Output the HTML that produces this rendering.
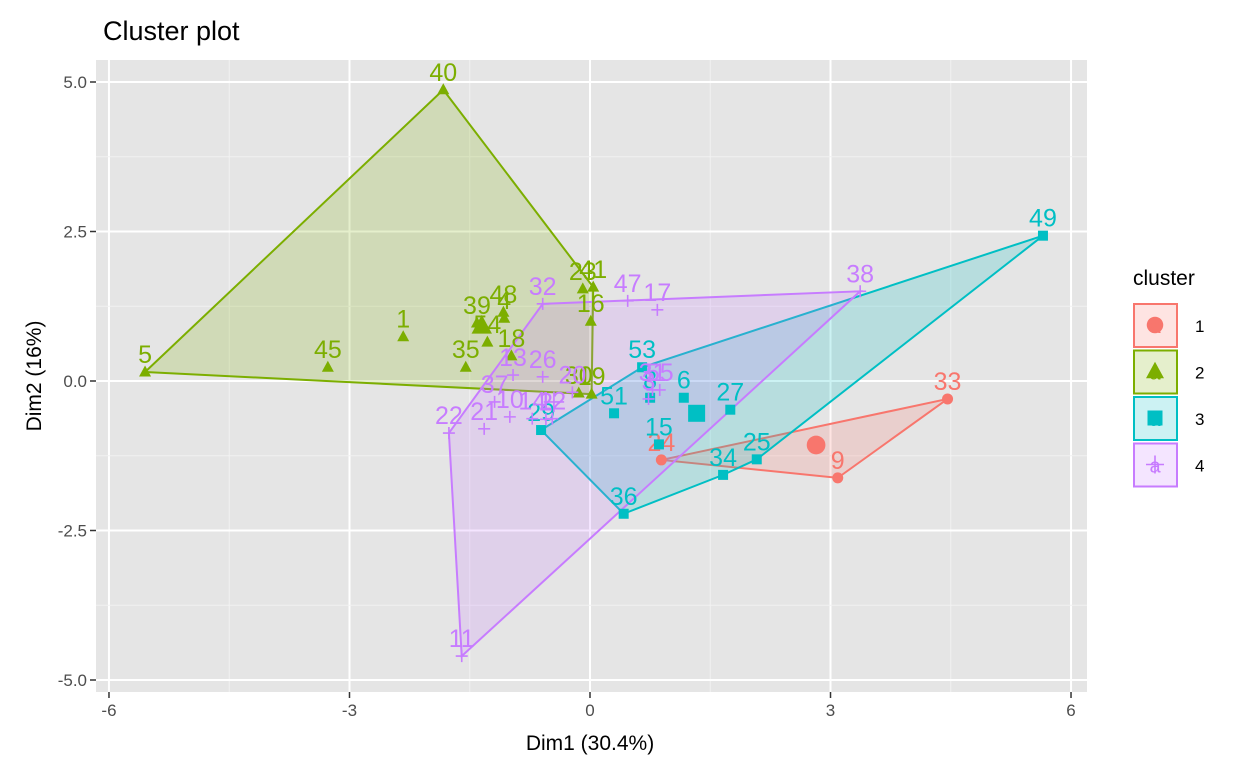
<!DOCTYPE html><html><head><meta charset="utf-8"><style>
body{margin:0;background:#fff;font-family:"Liberation Sans",sans-serif}
</style></head><body>
<svg id="chart" width="1248" height="768" xmlns="http://www.w3.org/2000/svg" font-family="Liberation Sans, sans-serif">
<text x="103" y="40" font-size="27" fill="#000">Cluster plot</text>
<rect x="96" y="60" width="991" height="632" fill="#e5e5e5"/>
<g id="grid"></g><g id="hulls"></g><g id="pts"></g><g id="axes"></g><g id="legend"></g>
<text x="590" y="750" text-anchor="middle" font-size="21" fill="#000">Dim1 (30.4%)</text>
<text transform="translate(41,376) rotate(-90)" text-anchor="middle" font-size="21" fill="#000">Dim2 (16%)</text>
</svg>
<script>
const clusterIds=[1,2,3,4];
const colors=["#F8766D","#7CAE00","#00BFC4","#C77CFF"];
const labels1=["24","9","33"];
const xs1=[0.89,3.09,4.46];
const ys1=[-1.32,-1.62,-0.30];
const labels2=["40","5","45","1","35","39","48","4","54","18","30","19","41","23","16"];
const xs2=[-1.83,-5.55,-3.27,-2.33,-1.55,-1.41,-1.08,-1.07,-1.28,-0.98,-0.14,0.02,0.04,-0.09,0.01];
const ys2=[4.87,0.15,0.23,0.74,0.23,0.97,1.15,1.05,0.65,0.42,-0.20,-0.22,1.57,1.54,1.0];
const labels3=["49","36","29","53","51","8","6","27","15","34","25"];
const xs3=[5.65,0.42,-0.61,0.65,0.30,0.75,1.17,1.75,0.86,1.66,2.08];
const ys3=[2.43,-2.22,-0.82,0.23,-0.54,-0.28,-0.28,-0.48,-1.06,-1.57,-1.31];
const labels4=["11","22","21","37","13","10","14","2","12","26","20","32","47","17","38","31","55","3"];
const xs4=[-1.60,-1.76,-1.32,-1.19,-0.96,-1.0,-0.72,-0.55,-0.47,-0.59,-0.22,-0.59,0.47,0.84,3.37,0.78,0.87,0.73];
const ys4=[-4.60,-0.87,-0.80,-0.35,0.10,-0.60,-0.63,-0.64,-0.63,0.07,-0.19,1.29,1.34,1.19,1.50,-0.15,-0.15,-0.30];
const centerX=[2.82,-1.35,1.33,-0.45];
const centerY=[-1.07,0.92,-0.54,-0.35];
const xTicks=[-6,-3,0,3,6];
const yTicks=[-5,-2.5,0,2.5,5];
const yTickLabels=["-5.0","-2.5","0.0","2.5","5.0"];

const X=v=>590+v*80.17, Y=v=>381-v*59.8;
const NS="http://www.w3.org/2000/svg";
function mk(p,tag,a){const e=document.createElementNS(NS,tag);for(const k in a)e.setAttribute(k,a[k]);p.appendChild(e);return e;}
const grid=document.getElementById('grid'),axes=document.getElementById('axes');
xTicks.forEach((t,i)=>{
  if(i<xTicks.length-1){const m=(t+xTicks[i+1])/2;const l=mk(grid,'line',{x1:X(m),x2:X(m),y1:60,y2:692,stroke:'#f2f2f2','stroke-width':1});
  
  }
  const g=mk(grid,'line',{x1:X(t),x2:X(t),y1:60,y2:692,stroke:'#fff','stroke-width':2});
  
  
  mk(axes,'line',{x1:X(t),x2:X(t),y1:692,y2:698,stroke:'#333','stroke-width':1.5});
  const tx=mk(axes,'text',{x:X(t),y:716,'text-anchor':'middle','font-size':17,fill:'#4d4d4d'});tx.textContent=t;
  
  
});
yTicks.forEach((t,i)=>{
  if(i<yTicks.length-1){const m=(t+yTicks[i+1])/2;const l=mk(grid,'line',{x1:96,x2:1087,y1:Y(m),y2:Y(m),stroke:'#f2f2f2','stroke-width':1});
  
  }
  const g=mk(grid,'line',{x1:96,x2:1087,y1:Y(t),y2:Y(t),stroke:'#fff','stroke-width':2});
  
  
  mk(axes,'line',{x1:90,x2:96,y1:Y(t),y2:Y(t),stroke:'#333','stroke-width':1.5});
  const tx=mk(axes,'text',{x:87,y:Y(t)+6,'text-anchor':'end','font-size':17,fill:'#4d4d4d'});tx.textContent=yTickLabels[i];
  
  
});
function hull(p){p=p.slice().sort((a,b)=>a[0]-b[0]||a[1]-b[1]);const c=(o,a,b)=>(a[0]-o[0])*(b[1]-o[1])-(a[1]-o[1])*(b[0]-o[0]);
const lo=[],up=[];for(const q of p){while(lo.length>1&&c(lo[lo.length-2],lo[lo.length-1],q)<=0)lo.pop();lo.push(q);}
for(const q of p.slice().reverse()){while(up.length>1&&c(up[up.length-2],up[up.length-1],q)<=0)up.pop();up.push(q);}
return lo.slice(0,-1).concat(up.slice(0,-1));}
function shape(g,k,cx,cy,s,col){
  if(k===0)return mk(g,'circle',{cx,cy,r:s*0.55,fill:col});
  if(k===1)return mk(g,'polygon',{points:`${cx},${cy-s*0.65} ${cx-s*0.6},${cy+s*0.45} ${cx+s*0.6},${cy+s*0.45}`,fill:col});
  if(k===2)return mk(g,'rect',{x:cx-s/2,y:cy-s/2,width:s,height:s,fill:col});
  return mk(g,'path',{d:`M${cx-s*0.6},${cy}H${cx+s*0.6}M${cx},${cy-s*0.6}V${cy+s*0.6}`,stroke:col,'stroke-width':1.6,fill:'none'});
}
const sets=[[xs1,ys1,labels1],[xs2,ys2,labels2],[xs3,ys3,labels3],[xs4,ys4,labels4]];
const hg=document.getElementById('hulls'),pg=document.getElementById('pts');
sets.forEach((s,k)=>{
  const pts=s[0].map((x,i)=>[X(x),Y(s[1][i])]);
  const h=hull(pts);
  const poly=mk(hg,'polygon',{points:h.map(p=>p.join(',')).join(' '),fill:colors[k],'fill-opacity':0.2,stroke:colors[k],'stroke-width':2});
  
  
});
sets.forEach((s,k)=>{
  s[0].forEach((x,i)=>{
    const cx=X(x),cy=Y(s[1][i]);
    const m=shape(pg,k,cx,cy,10,colors[k]);
    
    
    const t=mk(pg,'text',{x:cx,y:cy-9,'text-anchor':'middle','font-size':25,fill:colors[k]});t.textContent=s[2][i];
    
    
  });
  const c=shape(pg,k,X(centerX[k]),Y(centerY[k]),17,colors[k]);
  
  
});
const lg=document.getElementById('legend');
const lt=mk(lg,'text',{x:1133,y:285,'font-size':21,fill:'#000'});lt.textContent='cluster';


clusterIds.forEach((id,k)=>{
  const y0=304+k*46.5;
  const b=mk(lg,'rect',{x:1134,y:y0,width:43,height:43,fill:colors[k],'fill-opacity':0.2,stroke:colors[k],'stroke-width':2});
  
  
  shape(lg,k,1155,y0+21,15,colors[k]);
  const a=mk(lg,'text',{x:1155,y:y0+29,'text-anchor':'middle','font-size':20,fill:colors[k]});a.textContent='a';
  const t=mk(lg,'text',{x:1195,y:y0+28,'font-size':17,fill:'#000'});t.textContent=id;
  
  
});
</script></body></html>
